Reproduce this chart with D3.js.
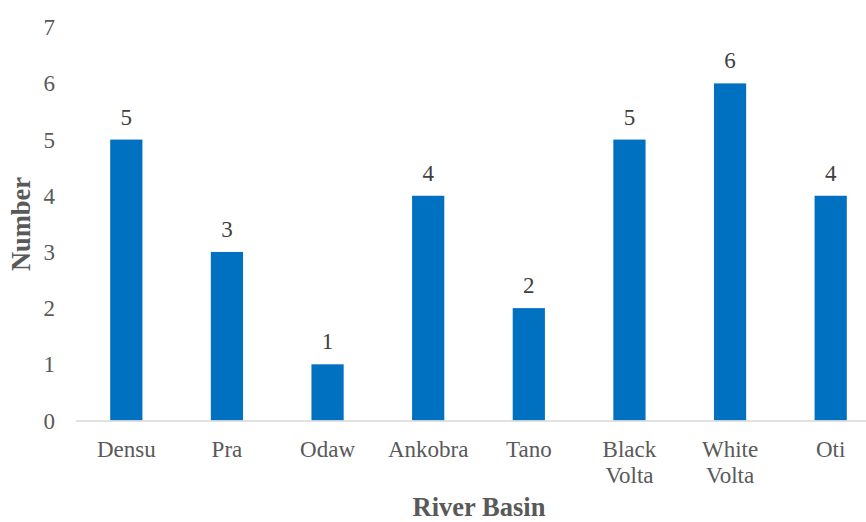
<!DOCTYPE html>
<html>
<head>
<meta charset="utf-8">
<script src="https://cdn.jsdelivr.net/npm/d3@7"></script>
<style>
  html, body { margin: 0; padding: 0; background: #fff; overflow: hidden; }
  svg { display: block; }
</style>
</head>
<body>
<svg id="chart" width="866" height="522" font-family="'Liberation Serif', 'Times New Roman', Times, serif"></svg>
<script>
// River basins and the count for each
const basins = [["Densu"], ["Pra"], ["Odaw"], ["Ankobra"], ["Tano"], ["Black", "Volta"], ["White", "Volta"], ["Oti"]];
const counts = [5, 3, 1, 4, 2, 5, 6, 4];
const yTicks = [0, 1, 2, 3, 4, 5, 6, 7];

const svg = d3.select("#chart");
const names = basins.map(b => b.join(" "));

const x = d3.scaleBand().domain(names).range([76, 881]).paddingInner(0.68).paddingOuter(0.34);
const y = d3.scaleLinear().domain([0, 7]).range([420.5, 27.2]);

// y tick labels
svg.append("g").selectAll("text").data(yTicks).join("text")
  .attr("x", 55).attr("y", d => y(d)).attr("dy", "0.35em")
  .attr("text-anchor", "end").attr("font-size", 23).attr("fill", "#595959")
  .text(d => d);

// bars
svg.append("g").selectAll("rect").data(counts).join("rect")
  .attr("x", (d, i) => x(names[i])).attr("width", x.bandwidth())
  .attr("y", d => y(d)).attr("height", d => y(0) - y(d))
  .attr("fill", "#0070C0");

// baseline
svg.append("line").attr("x1", 76).attr("x2", 881)
  .attr("y1", y(0) + 0.5).attr("y2", y(0) + 0.5)
  .attr("stroke", "#D9D9D9").attr("stroke-width", 1.5);

// value labels
svg.append("g").selectAll("text").data(counts).join("text")
  .attr("x", (d, i) => x(names[i]) + x.bandwidth() / 2).attr("y", d => y(d) - 15)
  .attr("text-anchor", "middle").attr("font-size", 23).attr("fill", "#404040")
  .text(d => d);

// category labels
const cat = svg.append("g").selectAll("text").data(basins).join("text")
  .attr("text-anchor", "middle").attr("font-size", 23).attr("fill", "#595959")
  .attr("transform", (d, i) => `translate(${x(names[i]) + x.bandwidth() / 2},457)`);
cat.selectAll("tspan").data(d => d).join("tspan")
  .attr("x", 0).attr("y", (d, j) => j * 26).text(d => d);

// axis titles
svg.append("text").attr("x", 479).attr("y", 516).attr("text-anchor", "middle")
  .attr("font-size", 26.5).attr("font-weight", "bold").attr("fill", "#595959")
  .text("River Basin");
svg.append("text").attr("transform", "translate(30,224) rotate(-90)")
  .attr("text-anchor", "middle").attr("font-size", 26.5).attr("font-weight", "bold").attr("fill", "#595959")
  .text("Number");
</script>
</body>
</html>
